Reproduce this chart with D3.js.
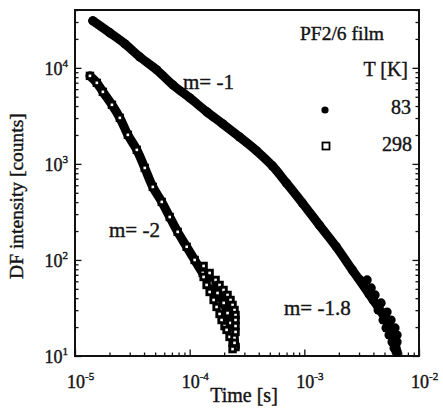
<!DOCTYPE html>
<html>
<head>
<meta charset="utf-8">
<script src="https://cdn.jsdelivr.net/npm/d3@7"></script>
<style>
  body { margin: 0; background: #fff; }
  text { font-family: "Liberation Serif", "Times New Roman", serif; fill: #141414; stroke: #141414; stroke-width: 0.4px; }
</style>
</head>
<body>
<div id="container"></div>
<script>
const width = 443, height = 409;
const margin = {left: 75, right: 24, top: 10, bottom: 53};

// 83 K, filled circles : [time (s), DF intensity (counts)]
const series83 = [
  [1.43e-5, 30900], [2.01e-5, 23200], [2.72e-5, 17800], [3.67e-5, 13000],
  [5.16e-5, 9530], [7.12e-5, 6650], [1.00e-4, 4870], [1.41e-4, 3480],
  [1.94e-4, 2610], [2.72e-4, 1910], [3.83e-4, 1370], [5.27e-4, 953],
  [6.97e-4, 634], [9.61e-4, 392], [1.35e-3, 231], [1.90e-3, 137],
  [2.62e-3, 78.7], [3.67e-3, 44.2], [5.16e-3, 23.7], [6.05e-3, 14.7],
  [6.44e-3, 11.0]
];
// points along the lower and upper edge of the noisy 83 K tail
const tail83Low = [
  [3.07e-3, 61.9], [3.53e-3, 48.7], [3.98e-3, 38.3], [4.40e-3, 30.1], [4.86e-3, 23.7],
  [5.16e-3, 19.6], [5.48e-3, 16.5], [5.82e-3, 14.0], [6.06e-3, 12.1]
];
const tail83High = [
  [3.53e-3, 61.9], [3.83e-3, 51.1], [4.14e-3, 43.2], [4.67e-3, 35.7], [5.27e-3, 28.7],
  [5.71e-3, 23.7], [6.18e-3, 19.6], [6.44e-3, 16.5], [6.44e-3, 14.0], [6.31e-3, 11.0]
];

// 298 K, open squares
const series298 = [
  [1.35e-5, 8250], [1.55e-5, 6980], [1.75e-5, 5620], [2.10e-5, 4120],
  [2.46e-5, 3015], [2.89e-5, 2005], [3.46e-5, 1400], [4.06e-5, 908],
  [4.77e-5, 576], [5.71e-5, 402], [6.70e-5, 280], [7.86e-5, 196],
  [9.42e-5, 137], [1.105e-4, 100], [1.30e-4, 73.2], [1.55e-4, 57.6],
  [1.75e-4, 45.3], [1.98e-4, 35.7], [2.14e-4, 28.0], [2.27e-4, 22.1],
  [2.37e-4, 17.4], [2.51e-4, 12.4]
];
const tail298Low = [
  [1.323e-4, 66.5], [1.405e-4, 54.9], [1.493e-4, 46.4], [1.617e-4, 38.3], [1.717e-4, 32.4],
  [1.823e-4, 27.4], [1.898e-4, 23.7], [2.014e-4, 20.5], [2.098e-4, 18.7], [2.227e-4, 15.8],
  [2.366e-4, 13.7]
];
const tail298High = [
  [1.323e-4, 86.6], [1.493e-4, 73.2], [1.683e-4, 61.9], [1.823e-4, 54.9], [1.975e-4, 48.7],
  [2.14e-4, 43.2], [2.272e-4, 38.3], [2.366e-4, 34.0], [2.461e-4, 30.1], [2.512e-4, 26.7],
  [2.512e-4, 23.7], [2.512e-4, 20.5], [2.512e-4, 17.8], [2.461e-4, 15.4], [2.461e-4, 13.7],
  [2.366e-4, 11.8]
];

const xTicks = [1e-5, 1e-4, 1e-3, 1e-2];
const xTickExp = ["-5", "-4", "-3", "-2"];
const yTicks = [1e1, 1e2, 1e3, 1e4];
const yTickExp = ["1", "2", "3", "4"];
const legendTitle = "PF2/6 film";
const legendHeader = "T [K]";
const legendLabels = ["83", "298"];
const slopeLabels = ["m= -1", "m= -2", "m= -1.8"];

const svg = d3.select("#container").append("svg")
  .attr("width", width).attr("height", height);

const x = d3.scaleLog().domain([1e-5, 1e-2]).range([margin.left, width - margin.right]);
const y = d3.scaleLog().domain([10, 4e4]).range([height - margin.bottom, margin.top]);

// minor ticks 2..9 in each decade
function minors(lo, hi) {
  let out = [];
  for (let e = lo; e < hi; e++) for (let k = 2; k <= 9; k++) out.push(k * Math.pow(10, e));
  return out;
}
const xMinor = minors(-5, -2);
const yMinor = minors(1, 5).filter(v => v <= 4e4);

const x0 = height - margin.bottom, y0 = margin.left, xr = width - margin.right;

function axisStyle(g) {
  g.select(".domain").remove();
  g.selectAll("line").attr("stroke", "#111").attr("stroke-width", 1.3);
}

svg.append("g").attr("transform", `translate(0,${x0})`)
  .call(d3.axisBottom(x).tickValues(xMinor).tickSize(-3.5).tickFormat(""))
  .call(axisStyle);
svg.append("g").attr("transform", `translate(0,${x0})`)
  .call(d3.axisBottom(x).tickValues(xTicks).tickSize(-6.5).tickFormat(""))
  .call(axisStyle);
svg.append("g").attr("transform", `translate(${y0},0)`)
  .call(d3.axisLeft(y).tickValues(yMinor).tickSize(-3.5).tickFormat(""))
  .call(axisStyle);
svg.append("g").attr("transform", `translate(${y0},0)`)
  .call(d3.axisLeft(y).tickValues(yTicks).tickSize(-6.5).tickFormat(""))
  .call(axisStyle);
svg.append("g").attr("transform", `translate(${xr},0)`)
  .call(d3.axisRight(y).tickValues(yMinor).tickSize(-3.5).tickFormat(""))
  .call(axisStyle);
svg.append("g").attr("transform", `translate(${xr},0)`)
  .call(d3.axisRight(y).tickValues(yTicks).tickSize(-6.5).tickFormat(""))
  .call(axisStyle);

// frame
svg.append("rect")
  .attr("x", margin.left).attr("y", margin.top)
  .attr("width", width - margin.left - margin.right)
  .attr("height", height - margin.top - margin.bottom)
  .attr("fill", "none").attr("stroke", "#111").attr("stroke-width", 2);

// tick labels with superscripts
xTicks.forEach((v, i) => {
  let t = svg.append("text").attr("x", x(v) - 8).attr("y", x0 + 32).attr("font-size", 18);
  t.append("tspan").text("10");
  t.append("tspan").attr("dy", -8).attr("font-size", 11).text(xTickExp[i]);
});
yTicks.forEach((v, i) => {
  let t = svg.append("text").attr("x", y0 - 7).attr("y", y(v) + 7)
    .attr("font-size", 18).attr("text-anchor", "end");
  t.append("tspan").text("10");
  t.append("tspan").attr("dy", -8).attr("font-size", 11).text(yTickExp[i]);
});

// axis titles
svg.append("text").attr("x", 244).attr("y", 402).attr("text-anchor", "middle")
  .attr("font-size", 20).text("Time [s]");
svg.append("text").attr("transform", "translate(23,196) rotate(-90)")
  .attr("text-anchor", "middle").attr("font-size", 19.5).text("DF intensity [counts]");

// data bands (dense markers)
const line = d3.line().x(d => x(d[0])).y(d => y(d[1])).curve(d3.curveCatmullRom);

svg.append("path").datum(series83).attr("d", line)
  .attr("fill", "none").attr("stroke", "#000").attr("stroke-width", 9)
  .attr("stroke-linecap", "round").attr("stroke-linejoin", "round");
svg.append("g").selectAll("circle").data(series83.concat(tail83Low, tail83High)).join("circle")
  .attr("cx", d => x(d[0])).attr("cy", d => y(d[1])).attr("r", 4.6).attr("fill", "#000");

svg.append("path").datum(series298).attr("d", line)
  .attr("fill", "none").attr("stroke", "#000").attr("stroke-width", 9)
  .attr("stroke-linecap", "round").attr("stroke-linejoin", "round");
const sq = svg.append("g").selectAll("g").data(series298.concat(tail298Low, tail298High)).join("g")
  .attr("transform", d => `translate(${x(d[0])},${y(d[1])})`);
sq.append("rect").attr("x", -4.2).attr("y", -4.2).attr("width", 8.4).attr("height", 8.4).attr("fill", "#000");
sq.append("rect").attr("x", -1.3).attr("y", -1.3).attr("width", 2.6).attr("height", 2.6).attr("fill", "#fff");

// slope annotations
svg.append("text").attr("x", 183).attr("y", 89).attr("font-size", 21).text(slopeLabels[0]);
svg.append("text").attr("x", 109).attr("y", 237).attr("font-size", 21).text(slopeLabels[1]);
svg.append("text").attr("x", 284).attr("y", 315).attr("font-size", 21).text(slopeLabels[2]);

// legend
svg.append("text").attr("x", 300).attr("y", 40).attr("font-size", 19.5).text(legendTitle);
svg.append("text").attr("x", 408).attr("y", 76).attr("font-size", 20)
  .attr("text-anchor", "end").text(legendHeader);
svg.append("circle").attr("cx", 325).attr("cy", 110).attr("r", 3.6).attr("fill", "#000");
svg.append("rect").attr("x", 322.5).attr("y", 142.5).attr("width", 7).attr("height", 7)
  .attr("fill", "#fff").attr("stroke", "#000").attr("stroke-width", 1.8);
svg.append("text").attr("x", 411).attr("y", 114).attr("font-size", 20)
  .attr("text-anchor", "end").text(legendLabels[0]);
svg.append("text").attr("x", 412).attr("y", 151).attr("font-size", 20)
  .attr("text-anchor", "end").text(legendLabels[1]);
</script>
</body>
</html>
